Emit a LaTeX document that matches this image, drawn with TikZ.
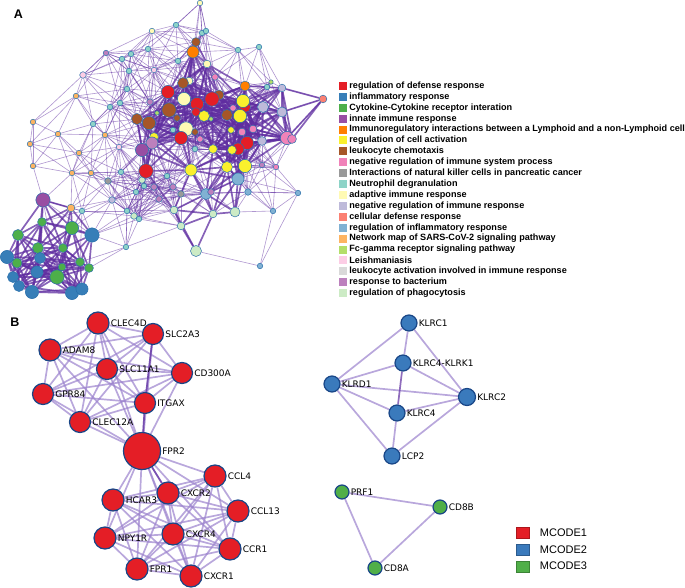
\documentclass[tikz,border=0pt]{standalone}
\usepackage{fontspec}
\setmainfont{Liberation Sans}
\newfontfamily\genefont{DejaVu Sans}
\usetikzlibrary{positioning}

% term colours (panel A)
\definecolor{c1}{RGB}{228,30,38}
\definecolor{c2}{RGB}{55,126,184}
\definecolor{c3}{RGB}{77,175,74}
\definecolor{c4}{RGB}{152,78,163}
\definecolor{c5}{RGB}{255,127,0}
\definecolor{c6}{RGB}{250,240,45}
\definecolor{c7}{RGB}{166,86,40}
\definecolor{c8}{RGB}{240,130,185}
\definecolor{c9}{RGB}{153,153,153}
\definecolor{c10}{RGB}{141,211,199}
\definecolor{c11}{RGB}{255,250,180}
\definecolor{c12}{RGB}{190,186,218}
\definecolor{c13}{RGB}{251,128,114}
\definecolor{c14}{RGB}{128,177,211}
\definecolor{c15}{RGB}{253,180,98}
\definecolor{c16}{RGB}{179,222,105}
\definecolor{c17}{RGB}{252,205,229}
\definecolor{c18}{RGB}{217,217,217}
\definecolor{c19}{RGB}{188,128,189}
\definecolor{c20}{RGB}{204,235,197}
\definecolor{nodeline}{RGB}{40,110,170}
\definecolor{netedge}{RGB}{95,45,160}
\definecolor{mcedge}{RGB}{155,130,205}
\definecolor{mcline}{RGB}{25,70,135}
\definecolor{m1}{RGB}{228,30,38}
\definecolor{m2}{RGB}{58,122,188}
\definecolor{m3}{RGB}{80,175,72}

\pgfdeclarelayer{edges}
\pgfsetlayers{edges,main}

\tikzset{
  anode/.style={circle, inner sep=0pt, draw=nodeline, line width=.5pt},
  aedge/.style={draw=netedge, line width=.6pt, opacity=.5},
  athick/.style={draw=netedge, line width=1.7pt, opacity=.75},
  lsq/.style={inner sep=0pt, minimum size=8pt},
  ltxt/.style={inner sep=0pt, anchor=west, font=\bfseries\fontsize{9.1}{10}\selectfont},
  bnode/.style={circle, inner sep=0pt, draw=mcline, line width=1.2pt},
  glabel/.style={inner sep=1pt, label distance=0pt, font=\genefont\fontsize{9}{10}\selectfont},
  bedge/.style={draw=mcedge, line width=1.7pt, opacity=.7},
  bdark/.style={draw=netedge, line width=1.7pt, opacity=.7},
  msq/.style={inner sep=0pt, minimum width=13pt, minimum height=11pt},
  mtxt/.style={inner sep=0pt, font=\fontsize{11}{12}\selectfont},
  panel/.style={inner sep=0pt, font=\bfseries\fontsize{12.5}{14}\selectfont}
}

\begin{document}
\begin{tikzpicture}[x=1pt, y=-1pt]
\useasboundingbox (0,0) rectangle (685,588);

\node[panel] (pA) at (18.5,14.5) {A};
\node[panel] (pB) at (15,322.5) {B};

% Panel A: enrichment network
\foreach \x/\y/\r/\c [count=\i] in {
 200/3/2.5/c11, 176/25/2.5/c10, 152/31/2.5/c11, 202/33/2.5/c10, 206/31/2.5/c10,
 238/50/2.5/c10, 259/47/2.5/c10, 106/53/2.5/c19, 131/54/2.5/c10, 122/59/2.5/c10,
 148/49/2.5/c10, 154/70/2.5/c17, 129/71/2.5/c10, 178/61/2.5/c10, 83/75/3/c17,
 127/89/2.5/c10, 76/96/2.5/c15, 110/107/2.5/c10, 120/103/2.5/c10, 93/124/2.5/c10,
 105/135/2.5/c15, 119/147/2.5/c17, 33/122/2.5/c15, 58/134/2.5/c15, 30/144/2.5/c15,
 79/153/2.5/c15, 33/166/2.5/c15, 72/173/2.5/c15, 91/173/2.5/c15, 108/181/3/c9,
 121/172/2.5/c10, 112/200/3/c12, 71/208/3.5/c15, 82/211/2.5/c10, 127/211/2.5/c10,
 134/216/3/c20, 139/219/2.5/c10, 126/247/2.5/c10, 142/180/3/c20, 144/186/2.5/c10,
 154/187/3/c19, 136/192/2.5/c10, 159/199/3/c19, 43/200/6.5/c4, 167/176/2.5/c10,
 173/187/3/c19, 181/194/3/c9, 206/194/5/c14, 211/192/3/c19, 174/210/3.5/c20,
 181/226/3.5/c20, 196/251/5/c20, 213/214/3.5/c20, 235/212/4.5/c20, 238/179/5.5/c14,
 248/192/3/c14, 298/193/2.5/c14, 273/211/2.5/c14, 260/266/2.5/c14, 262/165/2.5/c19,
 276/167/2.5/c8, 146/171/6.5/c1, 191/170/5.5/c6, 227/167/5/c6, 245/166/6/c6,
 193/52/5.5/c5, 196/42/4/c7, 207/64/3.5/c11, 215/77/3/c8, 189/81/3.5/c11,
 183/83/5/c7, 168/92/6/c1, 219/95/4.5/c7, 212/99/6.5/c1, 184/99/6/c11,
 197/104/6/c1, 196/112/4/c1, 204/116/5/c6, 211/119/2/c16, 169/110/6.5/c7,
 150/102/3/c19, 157/113/2/c16, 137/119/5/c7, 149/123/6/c7, 177/118/3/c7,
 245/86/4.5/c5, 282/88/3.5/c12, 271/82/2/c16, 267/87/2.5/c10, 245/107/5/c1,
 243/101/6/c6, 240/116/6/c6, 227/115/5/c7, 233/108/3/c8, 263/107/5/c12,
 282/112/4.5/c12, 186/129/6.5/c11, 195/132/3/c7, 173/130/2.5/c10, 200/139/3/c8,
 181/138/6/c1, 231/130/3/c6, 242/132/3.5/c8, 253/129/3.5/c8, 154/137/4/c6,
 152/143/5.5/c19, 142/150/6/c4, 287/138/6/c8, 292/139/4/c8, 262/141/4/c12,
 247/143/6/c1, 238/149/5.5/c1, 232/150/4/c6, 213/149/4/c6, 195/149/2.5/c10,
 323/99/3.5/c13, 18/235/5/c3, 42/222/4/c3, 72/228/6/c3, 92/235/6.5/c2,
 38/248/5/c3, 40/258/5/c2, 63/248/4/c3, 7/257/6/c2, 17/263/4.5/c3,
 37/272/5.5/c2, 57/277/6.5/c3, 80/262/4/c3, 89/268/4/c3, 62/267/3.5/c3,
 13/277/5/c2, 19/286/5/c2, 32/292/6/c2, 72/293/6/c2, 82/289/5.5/c2}{
  \node[anode, fill=\c, minimum size=\r*2.2pt] (a\i) at (\x,\y) {};
  \expandafter\xdef\csname ax\i\endcsname{\x}
  \expandafter\xdef\csname ay\i\endcsname{\y}
  \expandafter\xdef\csname ar\i\endcsname{\r}
}

\begin{pgfonlayer}{edges}
% link every pair of terms that lie close together
\foreach \i in {1,...,134}{
  \pgfmathtruncatemacro\k{\i+1}
  \foreach \j in {\k,...,135}{
    \pgfmathsetmacro\dx{abs(\csname ax\i\endcsname-\csname ax\j\endcsname)}
    \pgfmathsetmacro\dy{abs(\csname ay\i\endcsname-\csname ay\j\endcsname)}
    \ifdim\dx pt<54pt \ifdim\dy pt<54pt
      \pgfmathsetmacro\dd{veclen(\dx,\dy)}
      \pgfmathsetmacro\rr{min(\csname ar\i\endcsname,\csname ar\j\endcsname)}
      \ifdim\dd pt<54pt
        \ifdim\rr pt<3.5pt \draw[aedge] (a\i) -- (a\j); \else \draw[athick] (a\i) -- (a\j); \fi
      \fi
    \fi \fi
  }
}
\foreach \u/\v in {59/52, 59/58, 59/57, 57/55, 57/56, 116/87, 116/96, 116/108,
  1/2, 1/4, 1/5, 44/33, 44/120, 38/35, 38/51, 8/15, 8/13, 23/15, 25/17, 44/127}{
  \draw[aedge] (a\u) -- (a\v);
}
\end{pgfonlayer}

% Panel A: legend
\foreach \c/\t [count=\i] in {
 c1/regulation of defense response,
 c2/inflammatory response,
 c3/Cytokine-Cytokine receptor interation,
 c4/innate immune response,
 c5/Immunoregulatory interactions between a Lymphoid and a non-Lymphoid cell,
 c6/regulation of cell activation,
 c7/leukocyte chemotaxis,
 c8/negative regulation of immune system process,
 c9/Interactions of natural killer cells in pancreatic cancer,
 c10/Neutrophil degranulation,
 c11/adaptive immune response,
 c12/negative regulation of immune response,
 c13/cellular defense response,
 c14/regulation of inflammatory response,
 c15/Network map of SARS-CoV-2 signaling pathway,
 c16/Fc-gamma receptor signaling pathway,
 c17/Leishmaniasis,
 c18/leukocyte activation involved in immune response,
 c19/response to bacterium,
 c20/regulation of phagocytosis}{
  \node[lsq, fill=\c] (s\i) at (343,{86+(\i-1)*10.9}) {};
  \node[ltxt, right=2pt of s\i] (t\i) {\t};
}

% Panel B: MCODE components
\foreach \n/\t/\x/\y/\s/\c in {
 CLEC4D/CLEC4D/98/323/22/m1, SLC2A3/SLC2A3/153/334/21/m1, ADAM8/ADAM8/50/350/22/m1,
 SLC11A1/SLC11A1/107/369/21/m1, CD300A/CD300A/182/373/21/m1, GPR84/GPR84/43/394/21/m1,
 ITGAX/ITGAX/145/403/21/m1, CLEC12A/CLEC12A/80/422/21/m1, FPR2/FPR2/142/451/37/m1,
 CCL4/CCL4/215/476/22/m1, CXCR2/CXCR2/168/493/22/m1, HCAR3/HCAR3/113/500/22/m1,
 CCL13/CCL13/238/511/22/m1, NPY1R/NPY1R/105/538/22/m1, CXCR4/CXCR4/173/534/22/m1,
 CCR1/CCR1/230/549/22/m1, FPR1/FPR1/137/569/22/m1, CXCR1/CXCR1/191/576/22/m1,
 KLRC1/KLRC1/409/323/16/m2, KLRCK/KLRC4-KLRK1/403/363/16/m2, KLRD1/KLRD1/332/384/16/m2,
 KLRC2/KLRC2/467/397/17/m2, KLRC4/KLRC4/397/413/16/m2, LCP2/LCP2/392/456/16/m2,
 PRF1/PRF1/342/492/14/m3, CD8B/CD8B/440/507/14/m3, CD8A/CD8A/375/568/14/m3}{
  \node[bnode, fill=\c, minimum size=\s pt, label={[glabel]right:\t}] (\n) at (\x,\y) {};
}

\begin{pgfonlayer}{edges}
\foreach \u [count=\i] in {CLEC4D,SLC2A3,ADAM8,SLC11A1,CD300A,GPR84,ITGAX,CLEC12A,FPR2}{
  \foreach \v [count=\j] in {CLEC4D,SLC2A3,ADAM8,SLC11A1,CD300A,GPR84,ITGAX,CLEC12A,FPR2}{
    \ifnum\j>\i \draw[bedge] (\u) -- (\v); \fi
  }
}
\foreach \u [count=\i] in {FPR2,CCL4,CXCR2,HCAR3,CCL13,NPY1R,CXCR4,CCR1,FPR1,CXCR1}{
  \foreach \v [count=\j] in {FPR2,CCL4,CXCR2,HCAR3,CCL13,NPY1R,CXCR4,CCR1,FPR1,CXCR1}{
    \ifnum\j>\i \draw[bedge] (\u) -- (\v); \fi
  }
}
\draw[bdark] (ITGAX) -- (SLC2A3);
\draw[bdark] (ITGAX) -- (FPR2);
\draw[bdark] (CXCR2) -- (FPR2);
\foreach \u/\v in {KLRC1/KLRD1, KLRC1/KLRCK, KLRC1/KLRC2, KLRCK/KLRD1, KLRCK/KLRC2,
  KLRD1/KLRC2, KLRD1/KLRC4, KLRD1/LCP2, KLRC4/KLRC2, KLRC4/LCP2, LCP2/KLRC2,
  PRF1/CD8B, PRF1/CD8A, CD8A/CD8B}{
  \draw[bedge] (\u) -- (\v);
}
\draw[bdark] (KLRCK) -- (KLRC4);
\end{pgfonlayer}

% Panel B: legend
\foreach \c/\t [count=\i] in {m1/MCODE1, m2/MCODE2, m3/MCODE3}{
  \node[msq, fill=\c, draw=\c!75!black, line width=.4pt] (q\i) at (523,{533+(\i-1)*16.6}) {};
  \node[mtxt, anchor=west, right=10pt of q\i] (u\i) {\t};
}
\end{tikzpicture}
\end{document}
